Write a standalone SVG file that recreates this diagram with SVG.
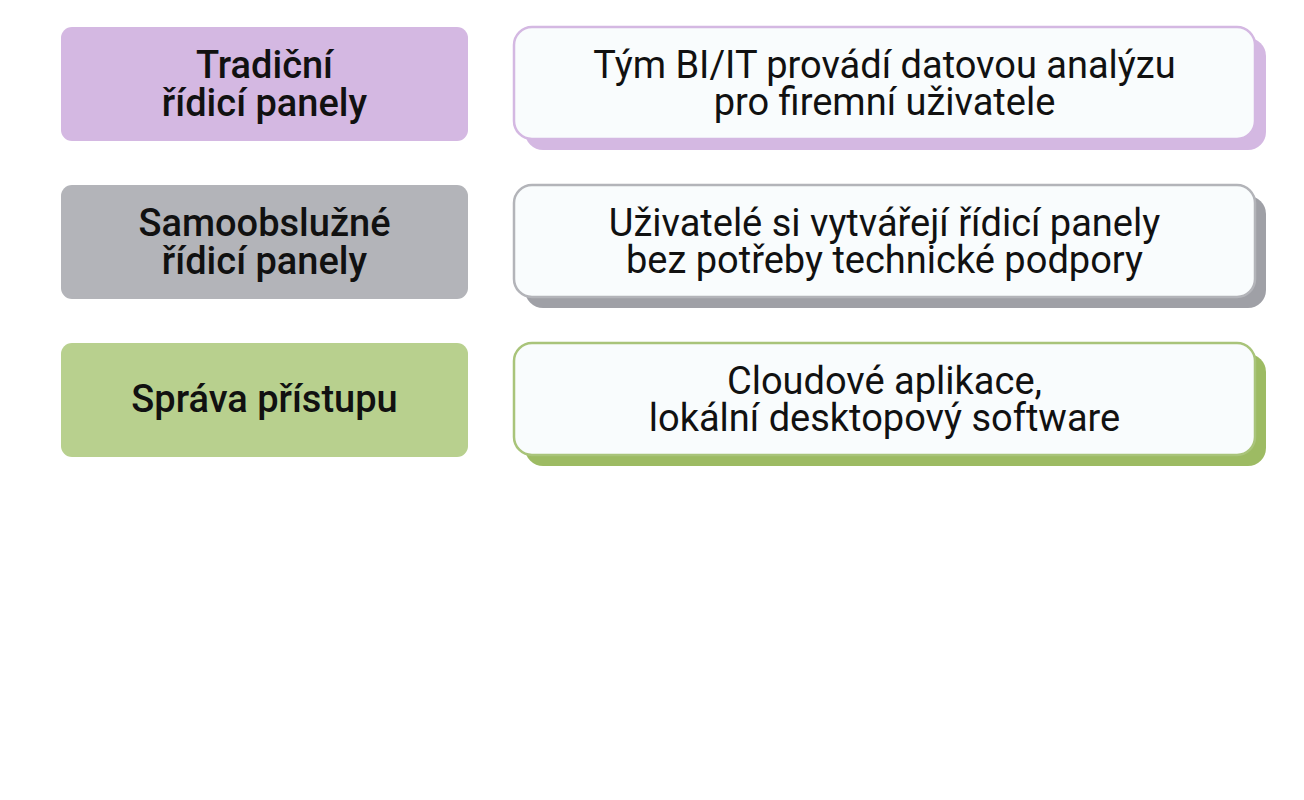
<svg xmlns="http://www.w3.org/2000/svg" width="1304" height="800" viewBox="0 0 1304 800">
<style>
.lbl{font-family:Roboto,"Liberation Sans",sans-serif;font-weight:500;font-size:38px;fill:#111;text-anchor:middle}
.desc{font-family:Roboto,"Liberation Sans",sans-serif;font-weight:400;font-size:38px;fill:#111;text-anchor:middle}
.card{fill:#f9fcfd;stroke-width:2.5}
</style>
<rect width="1304" height="800" fill="#ffffff"/>
<g id="row1-left">
<rect x="61" y="27" width="407" height="114" rx="11" fill="#d4b8e2"/>
<text class="lbl" x="264.5" y="78">Tradiční<tspan x="264.5" dy="38">řídicí panely</tspan></text>
</g>
<g id="row1-right">
<rect x="525" y="38" width="741" height="112" rx="18" fill="#d4b8e2"/>
<rect class="card" x="514" y="27" width="741" height="112" rx="18" stroke="#d4b8e2"/>
<text class="desc" x="884.5" y="78">Tým BI/IT provádí datovou analýzu<tspan x="884.5" dy="37">pro firemní uživatele</tspan></text>
</g>
<g id="row2-left">
<rect x="61" y="185" width="407" height="114" rx="11" fill="#b3b4b9"/>
<text class="lbl" x="264.5" y="236">Samoobslužné<tspan x="264.5" dy="38">řídicí panely</tspan></text>
</g>
<g id="row2-right">
<rect x="525" y="196" width="741" height="112" rx="18" fill="#9fa0a6"/>
<rect class="card" x="514" y="185" width="741" height="112" rx="18" stroke="#b3b4b9"/>
<text class="desc" x="884.5" y="236">Uživatelé si vytvářejí řídicí panely<tspan x="884.5" dy="37">bez potřeby technické podpory</tspan></text>
</g>
<g id="row3-left">
<rect x="61" y="343" width="407" height="114" rx="11" fill="#b8d08e"/>
<text class="lbl" x="264.5" y="412">Správa přístupu</text>
</g>
<g id="row3-right">
<rect x="525" y="354" width="741" height="112" rx="18" fill="#9dbb63"/>
<rect class="card" x="514" y="343" width="741" height="112" rx="18" stroke="#a9c47a"/>
<text class="desc" x="884.5" y="394">Cloudové aplikace,<tspan x="884.5" dy="37">lokální desktopový software</tspan></text>
</g>
<g id="connectors"/>
</svg>
